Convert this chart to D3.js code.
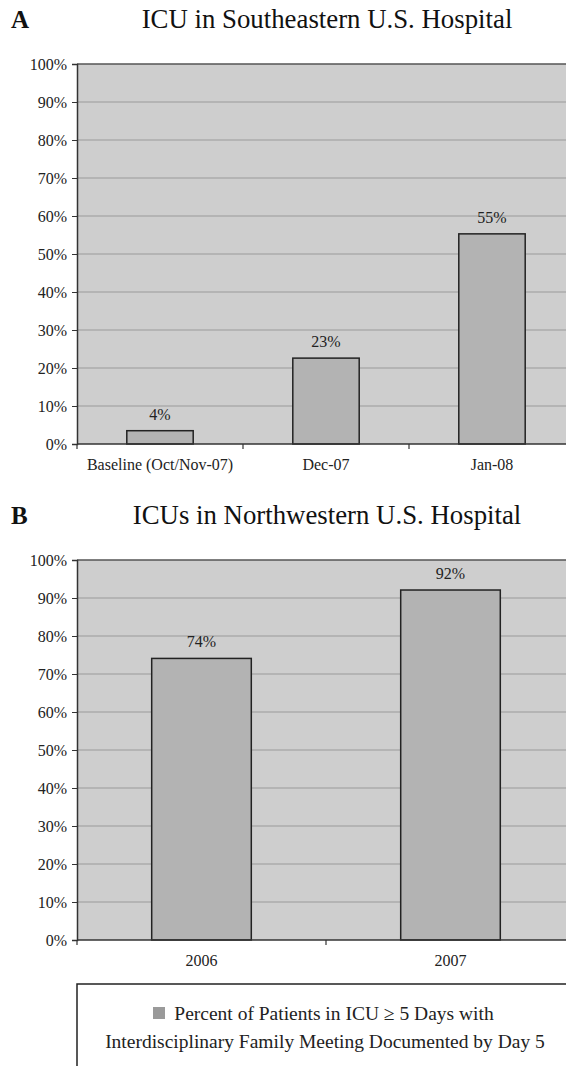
<!DOCTYPE html>
<html><head><meta charset="utf-8">
<script src="https://cdn.jsdelivr.net/npm/d3@7"></script>
<style>
html,body{margin:0;padding:0;background:#fff;}
svg{display:block;font-family:"Liberation Serif","Times New Roman",serif;}
</style></head>
<body>
<svg id="c" width="566" height="1066"></svg>
<script>
// ---- data ----
const catsA = ["Baseline (Oct/Nov-07)", "Dec-07", "Jan-08"];
const valsA = [3.5, 22.6, 55.3];
const labelsA = ["4%", "23%", "55%"];
const catsB = ["2006", "2007"];
const valsB = [74.1, 92.1];
const labelsB = ["74%", "92%"];
const yTicks = [0,10,20,30,40,50,60,70,80,90,100];
const legendLines = ["Percent of Patients in ICU \u2265 5 Days with",
                     "Interdisciplinary Family Meeting Documented by Day 5"];

const svg = d3.select("#c");
const plotBg = "#cecece", barFill = "#b3b3b3", gridCol = "#9a9a9a", axisCol = "#333";

function panel(letter, title, cats, vals, labels, top) {
  const g = svg.append("g");
  const x0 = 77, x1 = 575;
  const yTop = top + 36, yBot = top + 416;
  const x = d3.scaleBand().domain(cats).range([x0, x1]).paddingInner(0.6).paddingOuter(0.3);
  const y = d3.scaleLinear().domain([0, 100]).range([yBot, yTop]);

  g.append("text").attr("x", 11).attr("y", top).attr("font-size", 25).attr("font-weight", "bold")
    .attr("fill", "#111").text(letter);
  g.append("text").attr("x", 327).attr("y", top).attr("text-anchor", "middle").attr("font-size", 26.8)
    .attr("fill", "#111").text(title);

  g.append("rect").attr("x", x0).attr("y", yTop).attr("width", x1 - x0).attr("height", yBot - yTop)
    .attr("fill", plotBg);

  g.append("g").selectAll("line").data(yTicks.filter(d => d > 0)).join("line")
    .attr("x1", x0).attr("x2", x1).attr("y1", d => y(d)).attr("y2", d => y(d))
    .attr("stroke", d => d === 100 ? "#555" : gridCol).attr("stroke-width", d => d === 100 ? 1.5 : 1);

  g.selectAll("rect.bar").data(vals).join("rect").attr("class", "bar")
    .attr("x", (d, i) => x(cats[i])).attr("width", x.bandwidth())
    .attr("y", d => y(d)).attr("height", d => yBot - y(d))
    .attr("fill", barFill).attr("stroke", "#222").attr("stroke-width", 1.5);

  g.selectAll("text.vl").data(vals).join("text").attr("class", "vl")
    .attr("x", (d, i) => x(cats[i]) + x.bandwidth() / 2).attr("y", d => y(d) - 11)
    .attr("text-anchor", "middle").attr("font-size", 16).attr("fill", "#222")
    .text((d, i) => labels[i]);

  const ya = g.append("g").attr("transform", `translate(${x0},0)`)
    .call(d3.axisLeft(y).tickValues(yTicks).tickFormat(d => d + "%").tickSize(5).tickPadding(5));
  ya.select(".domain").attr("stroke", axisCol).attr("stroke-width", 1.5);
  ya.selectAll(".tick line").attr("stroke", axisCol);
  ya.selectAll(".tick text").attr("font-size", 16).attr("fill", "#222")
    .attr("font-family", "'Liberation Serif',serif");

  // x axis baseline, ticks at category boundaries, labels
  g.append("line").attr("x1", x0).attr("x2", x1).attr("y1", yBot).attr("y2", yBot)
    .attr("stroke", axisCol).attr("stroke-width", 1.5);
  const bounds = d3.range(cats.length + 1).map(i => x0 + i * x.step());
  g.selectAll("line.xt").data(bounds).join("line").attr("class", "xt")
    .attr("x1", d => d).attr("x2", d => d).attr("y1", yBot).attr("y2", yBot + 5)
    .attr("stroke", axisCol).attr("stroke-width", 1.2);
  g.selectAll("text.xl").data(cats).join("text").attr("class", "xl")
    .attr("x", d => x(d) + x.bandwidth() / 2).attr("y", yBot + 26)
    .attr("text-anchor", "middle").attr("font-size", 16).attr("fill", "#222").text(d => d);
}

panel("A", "ICU in Southeastern U.S. Hospital", catsA, valsA, labelsA, 28);
panel("B", "ICUs in Northwestern U.S. Hospital", catsB, valsB, labelsB, 524);

// legend
const lg = svg.append("g");
lg.append("rect").attr("x", 77).attr("y", 984).attr("width", 520).attr("height", 120)
  .attr("fill", "#fff").attr("stroke", "#222").attr("stroke-width", 1.5);
lg.selectAll("text").data(legendLines).join("text")
  .attr("x", (d, i) => i === 0 ? 334 : 325).attr("y", (d, i) => 1020 + i * 28)
  .attr("text-anchor", "middle").attr("font-size", 19.5).attr("fill", "#222").text(d => d);
lg.append("rect").attr("x", 153).attr("y", 1007).attr("width", 12).attr("height", 12).attr("fill", "#9a9a9a");
</script>
</body></html>
